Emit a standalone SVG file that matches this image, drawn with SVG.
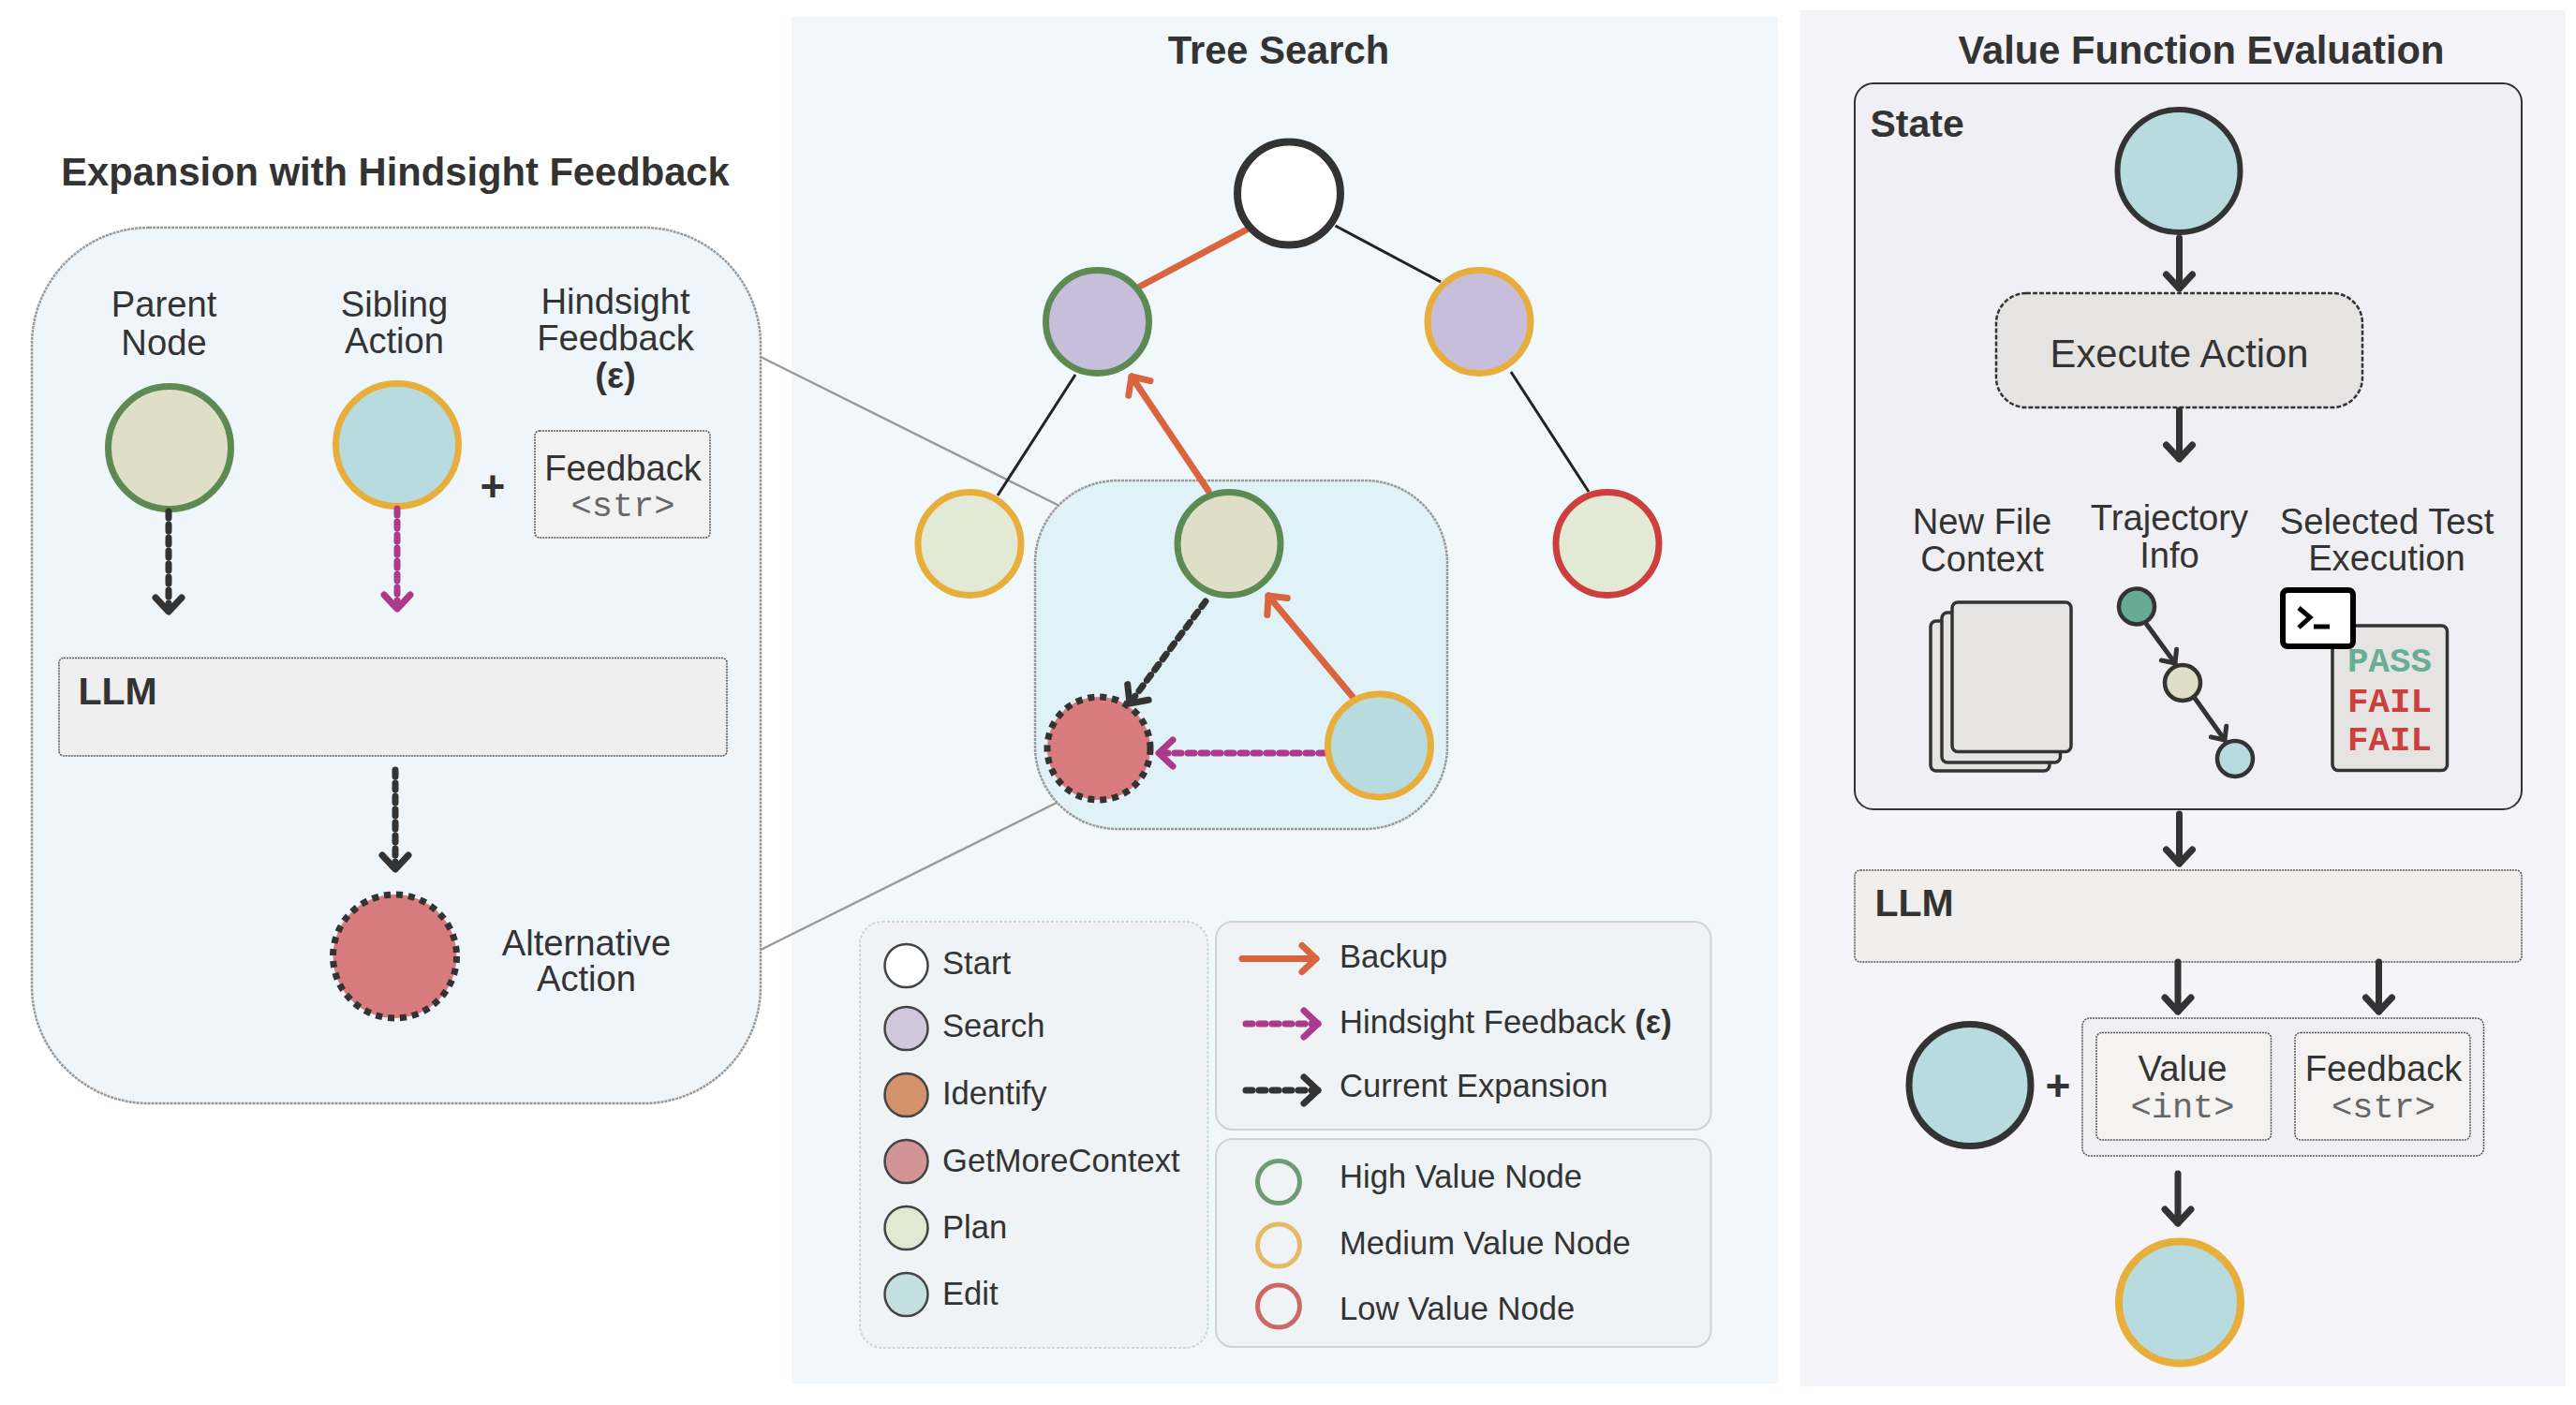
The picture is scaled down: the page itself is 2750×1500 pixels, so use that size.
<svg xmlns="http://www.w3.org/2000/svg" width="2750" height="1500" viewBox="0 0 2750 1500">
<defs>
<style>
text{font-family:"Liberation Sans",Arial,sans-serif;fill:#333}
.c{text-anchor:middle}
.t{font-size:38.2px}
.h{font-size:41.7px;font-weight:700}
.b{font-weight:700;font-size:41px}
.m{font-family:"Liberation Mono","Courier New",monospace;font-size:37px;fill:#666}
.l{font-size:34.6px}
.n{stroke-width:7}
.g{stroke:#5c8a52}.o{stroke:#e8ae3c}.r{stroke:#cc3f3c}.k{stroke:#333}
.fe{fill:#b8dbdf}.fp{fill:#e2e9d5}.fs{fill:#c6bedb}.fd{fill:#dfdfc8}.fr{fill:#d77b7e}
.dot{stroke:#333;stroke-width:7;stroke-dasharray:7 6;stroke-linecap:butt}
.box{stroke:#555;stroke-width:1.5;stroke-dasharray:2 1}
.line{fill:none;stroke:#222;stroke-width:3}
.zoomline{fill:none;stroke:#999;stroke-width:2.5}
.bk{fill:none;stroke:#d9653f;stroke-width:7;stroke-linecap:round}
.hf{fill:none;stroke:#ab3a8d;stroke-width:7;stroke-linecap:round;stroke-dasharray:7 7}
.ce{fill:none;stroke:#333;stroke-width:7;stroke-linecap:round;stroke-dasharray:7 7}
.ar{fill:none;stroke:#333;stroke-width:7;stroke-linecap:round}
.ar2{fill:none;stroke:#333;stroke-width:5;stroke-linecap:round}
.leg{fill:#eff3f6;stroke:#ccd3da;stroke-width:2}
.lc{stroke:#444;stroke-width:2.5}
.doc{fill:#e5e4e2;stroke:#333;stroke-width:3.5}
.res{font-family:"Liberation Mono","Courier New",monospace;font-weight:700;font-size:37.5px}
</style>
<marker id="mk" markerUnits="userSpaceOnUse" markerWidth="50" markerHeight="50" refX="28" refY="25" orient="auto" overflow="visible"><path d="M13,11 L28,25 L13,39" fill="none" stroke="#333" stroke-width="7" stroke-linecap="round" stroke-linejoin="round"/></marker>
<marker id="mo" markerUnits="userSpaceOnUse" markerWidth="50" markerHeight="50" refX="28" refY="25" orient="auto" overflow="visible"><path d="M13,11 L28,25 L13,39" fill="none" stroke="#d9653f" stroke-width="7" stroke-linecap="round" stroke-linejoin="round"/></marker>
<marker id="mm" markerUnits="userSpaceOnUse" markerWidth="50" markerHeight="50" refX="28" refY="25" orient="auto" overflow="visible"><path d="M13,11 L28,25 L13,39" fill="none" stroke="#ab3a8d" stroke-width="7" stroke-linecap="round" stroke-linejoin="round"/></marker>
<marker id="ms" markerUnits="userSpaceOnUse" markerWidth="40" markerHeight="40" refX="20" refY="20" orient="auto" overflow="visible"><path d="M9,10 L20,20 L9,30" fill="none" stroke="#333" stroke-width="5" stroke-linecap="round" stroke-linejoin="round"/></marker>
</defs>

<rect id="panel-tree" x="845" y="18" width="1053" height="1459" fill="#f0f8fb"/>
<rect id="panel-value" x="1922" y="11" width="817" height="1469" fill="#f4f4f9"/>

<g id="zoom-lines">
<path class="zoomline" d="M812,381 L1133,541"/>
<path class="zoomline" d="M812,1014 L1130,856"/>
</g>

<g id="expansion-panel">
<rect x="34" y="243" width="778" height="935" rx="125" ry="125" fill="#eef6fc" stroke="#999" stroke-width="2.5" stroke-dasharray="3 1"/>
<text class="h c" x="422" y="198">Expansion with Hindsight Feedback</text>
</g>
<g id="parent-node">
<text class="t c" x="175" y="337.500">Parent</text><text class="t c" x="175" y="379">Node</text>
<circle class="n g fd" cx="181" cy="478" r="65.500"/>
</g>
<g id="sibling-action">
<text class="t c" x="421" y="337.500">Sibling</text><text class="t c" x="421" y="377">Action</text>
<circle class="n o fe" cx="424" cy="475" r="65.500"/>
</g>
<g id="hindsight-feedback">
<text class="t c" x="657" y="334.500">Hindsight</text><text class="t c" x="657" y="374">Feedback</text><text class="t c" x="657" y="414" font-weight="700">(ε)</text>
<text class="c" x="526" y="535" font-size="46" font-weight="700">+</text>
<rect class="box" x="571" y="460" width="187" height="114" rx="5" fill="#f2f2f2"/>
<text class="t c" x="665" y="513">Feedback</text><text class="m c" x="665" y="551">&lt;str&gt;</text>
</g>
<g id="llm-expansion">
<rect class="box" x="63" y="702.500" width="713" height="104.500" rx="5" fill="#efefef"/>
<text class="b" x="83.500" y="752">LLM</text>
</g>
<g id="alternative-action">
<circle class="dot fr" cx="421.500" cy="1021" r="66"/>
<text class="t c" x="626" y="1019.500">Alternative</text><text class="t c" x="626" y="1057.500">Action</text>
</g>

<g id="tree-title"><text class="h c" x="1365" y="68">Tree Search</text></g>
<rect id="highlight" x="1105" y="513" width="440" height="372" rx="88" ry="88" fill="#e0f1f8" stroke="#999" stroke-width="2.5" stroke-dasharray="3 1"/>

<g id="value-title"><text class="h c" x="2350" y="68">Value Function Evaluation</text></g>
<g id="state-box">
<rect x="1980" y="89" width="712" height="775" rx="20" fill="#f0eff3" stroke="#333" stroke-width="2"/>
<text class="b" x="1996.500" y="146">State</text>
</g>
<g id="execute-action">
<rect x="2131" y="313" width="391" height="122" rx="32" fill="#e5e4e2" stroke="#333" stroke-width="2.500" stroke-dasharray="5 2"/>
<text class="c" x="2326.500" y="392" font-size="41.700">Execute Action</text>
</g>
<g id="llm-value">
<rect class="box" x="1980" y="929" width="712" height="98" rx="6" fill="#f0efed"/>
<text class="b" x="2001.500" y="978">LLM</text>
</g>
<g id="output-box">
<rect class="box" x="2223" y="1087" width="428.500" height="147" rx="8" fill="#f0eff2"/>
<rect class="box" x="2238" y="1102.500" width="186.500" height="114.500" rx="6" fill="#f4f3f2"/>
<text class="t c" x="2330" y="1154">Value</text><text class="m c" x="2330" y="1193">&lt;int&gt;</text>
<rect class="box" x="2450" y="1102.500" width="187" height="114.500" rx="6" fill="#f4f3f2"/>
<text class="t c" x="2544.500" y="1154">Feedback</text><text class="m c" x="2544.500" y="1193">&lt;str&gt;</text>
</g>

<g id="connectors">
<path class="bk" d="M1331,245 L1216.500,306"/>
<path class="line" d="M1425.500,241 L1538,301"/>
<path class="line" d="M1148,400 L1065,529"/>
<path class="line" d="M1613,397 L1696,525"/>
<path class="bk" d="M1290,524 L1208,402" marker-end="url(#mo)"/>
<path class="bk" d="M1444,744 L1354,636" marker-end="url(#mo)"/>
<path class="ce" d="M1287,642 L1206,751" marker-end="url(#mk)"/>
<path class="hf" d="M1415,804 L1237,804" marker-end="url(#mm)"/>
<path class="ce" d="M180,546 L180,653" marker-end="url(#mk)"/>
<path class="hf" d="M424,543 L424,650" marker-end="url(#mm)"/>
<path class="ce" d="M422,822 L422,928" marker-end="url(#mk)"/>
<path class="ar" d="M2326.500,254 L2326.500,308" marker-end="url(#mk)"/>
<path class="ar" d="M2326.500,438 L2326.500,490" marker-end="url(#mk)"/>
<path class="ar" d="M2326.500,869 L2326.500,922" marker-end="url(#mk)"/>
<path class="ar" d="M2325,1027 L2325,1080" marker-end="url(#mk)"/>
<path class="ar" d="M2539.500,1027 L2539.500,1080" marker-end="url(#mk)"/>
<path class="ar" d="M2325,1253 L2325,1306" marker-end="url(#mk)"/>
</g>

<g id="tree-root"><circle cx="1376" cy="206.500" r="55" fill="#fff" stroke="#333" stroke-width="8"/></g>
<g id="tree-a"><circle class="n g fs" cx="1171.500" cy="343.500" r="55"/></g>
<g id="tree-b"><circle class="n o fs" cx="1579" cy="343.500" r="55"/></g>
<g id="tree-c"><circle class="n o fp" cx="1035" cy="580.500" r="55"/></g>
<g id="tree-d"><circle class="n g fd" cx="1312" cy="580.500" r="55"/></g>
<g id="tree-e"><circle class="n r fp" cx="1716" cy="580.500" r="55"/></g>
<g id="tree-f"><circle class="dot fr" cx="1173" cy="799" r="55" stroke-dasharray="6 5"/></g>
<g id="tree-g"><circle class="n o fe" cx="1472.500" cy="796" r="55"/></g>

<g id="legend-nodes">
<rect class="leg" x="918" y="984" width="371.500" height="455" rx="24" stroke-dasharray="3 2"/>
<circle class="lc" cx="967.500" cy="1031" r="23" fill="#fff"/><text class="l" x="1006" y="1040">Start</text>
<circle class="lc" cx="967.500" cy="1098" r="23" fill="#cfc8da"/><text class="l" x="1006" y="1107">Search</text>
<circle class="lc" cx="967.500" cy="1169" r="23" fill="#d2926a"/><text class="l" x="1006" y="1178.500">Identify</text>
<circle class="lc" cx="967.500" cy="1240" r="23" fill="#d39496"/><text class="l" x="1006" y="1251">GetMoreContext</text>
<circle class="lc" cx="967.500" cy="1311" r="23" fill="#e0e9d2"/><text class="l" x="1006" y="1322">Plan</text>
<circle class="lc" cx="967.500" cy="1382" r="23" fill="#c4dfdf"/><text class="l" x="1006" y="1393">Edit</text>
</g>
<g id="legend-edges">
<rect class="leg" x="1298" y="984" width="528.500" height="222" rx="18"/>
<path class="bk" d="M1326,1023.500 L1405,1023.500" marker-end="url(#mo)"/><text class="l" x="1430" y="1033">Backup</text>
<path class="hf" d="M1330,1093 L1407,1093" marker-end="url(#mm)"/><text class="l" x="1430" y="1103">Hindsight Feedback <tspan font-weight="700">(ε)</tspan></text>
<path class="ce" d="M1330,1164 L1407,1164" marker-end="url(#mk)"/><text class="l" x="1430" y="1171">Current Expansion</text>
</g>
<g id="legend-values">
<rect class="leg" x="1298" y="1216" width="528.500" height="222" rx="18"/>
<circle cx="1365" cy="1262" r="22.500" fill="none" stroke="#6f9b72" stroke-width="5"/><text class="l" x="1430" y="1268">High Value Node</text>
<circle cx="1365" cy="1329.500" r="22.500" fill="none" stroke="#e3bb65" stroke-width="5"/><text class="l" x="1430" y="1339">Medium Value Node</text>
<circle cx="1365" cy="1394.500" r="22.500" fill="none" stroke="#c96a67" stroke-width="5"/><text class="l" x="1430" y="1408.500">Low Value Node</text>
</g>

<g id="state-node"><circle class="k fe" cx="2326" cy="182.500" r="65.500" stroke-width="6"/></g>
<g id="new-file-context">
<text class="t c" x="2116" y="570">New File</text><text class="t c" x="2116" y="610">Context</text>
<rect class="doc" x="2061" y="663" width="127" height="160" rx="6"/>
<rect class="doc" x="2073" y="654" width="126.500" height="160" rx="6"/>
<rect class="doc" x="2084" y="643" width="127" height="159.500" rx="6"/>
</g>
<g id="trajectory-info">
<text class="t c" x="2316" y="566">Trajectory</text><text class="t c" x="2316" y="606">Info</text>
<path class="ar2" d="M2290.500,665 L2322,708" marker-end="url(#ms)"/>
<path class="ar2" d="M2343.500,746 L2375,790" marker-end="url(#ms)"/>
<circle cx="2281" cy="647.500" r="19" fill="#68ab94" stroke="#333" stroke-width="4.500"/>
<circle cx="2330" cy="729" r="19" fill="#dfdfc8" stroke="#333" stroke-width="4.500"/>
<circle cx="2386" cy="810" r="19" fill="#b8dbdf" stroke="#333" stroke-width="4.500"/>
</g>
<g id="selected-test">
<text class="t c" x="2548" y="570">Selected Test</text><text class="t c" x="2548" y="609">Execution</text>
<rect class="doc" x="2490" y="668" width="122.500" height="154.500" rx="6"/>
<text class="res" x="2506" y="717" style="fill:#68ae96">PASS</text>
<text class="res" x="2506" y="760" style="fill:#cc3f3c">FAIL</text>
<text class="res" x="2506" y="801" style="fill:#cc3f3c">FAIL</text>
<rect x="2437" y="630" width="75" height="60" rx="5" fill="#fff" stroke="#000" stroke-width="6"/>
<path d="M2454,649 L2466,659 L2454,670 M2470,669 L2487,669" fill="none" stroke="#000" stroke-width="5"/>
</g>

<g id="output-state"><circle class="n k fe" cx="2103" cy="1158.500" r="65"/></g>
<g id="plus-value"><text class="c" x="2197" y="1175" font-size="46" font-weight="700">+</text></g>
<g id="final-node"><circle class="o fe" cx="2327" cy="1390.500" r="65" stroke-width="8"/></g>
</svg>
